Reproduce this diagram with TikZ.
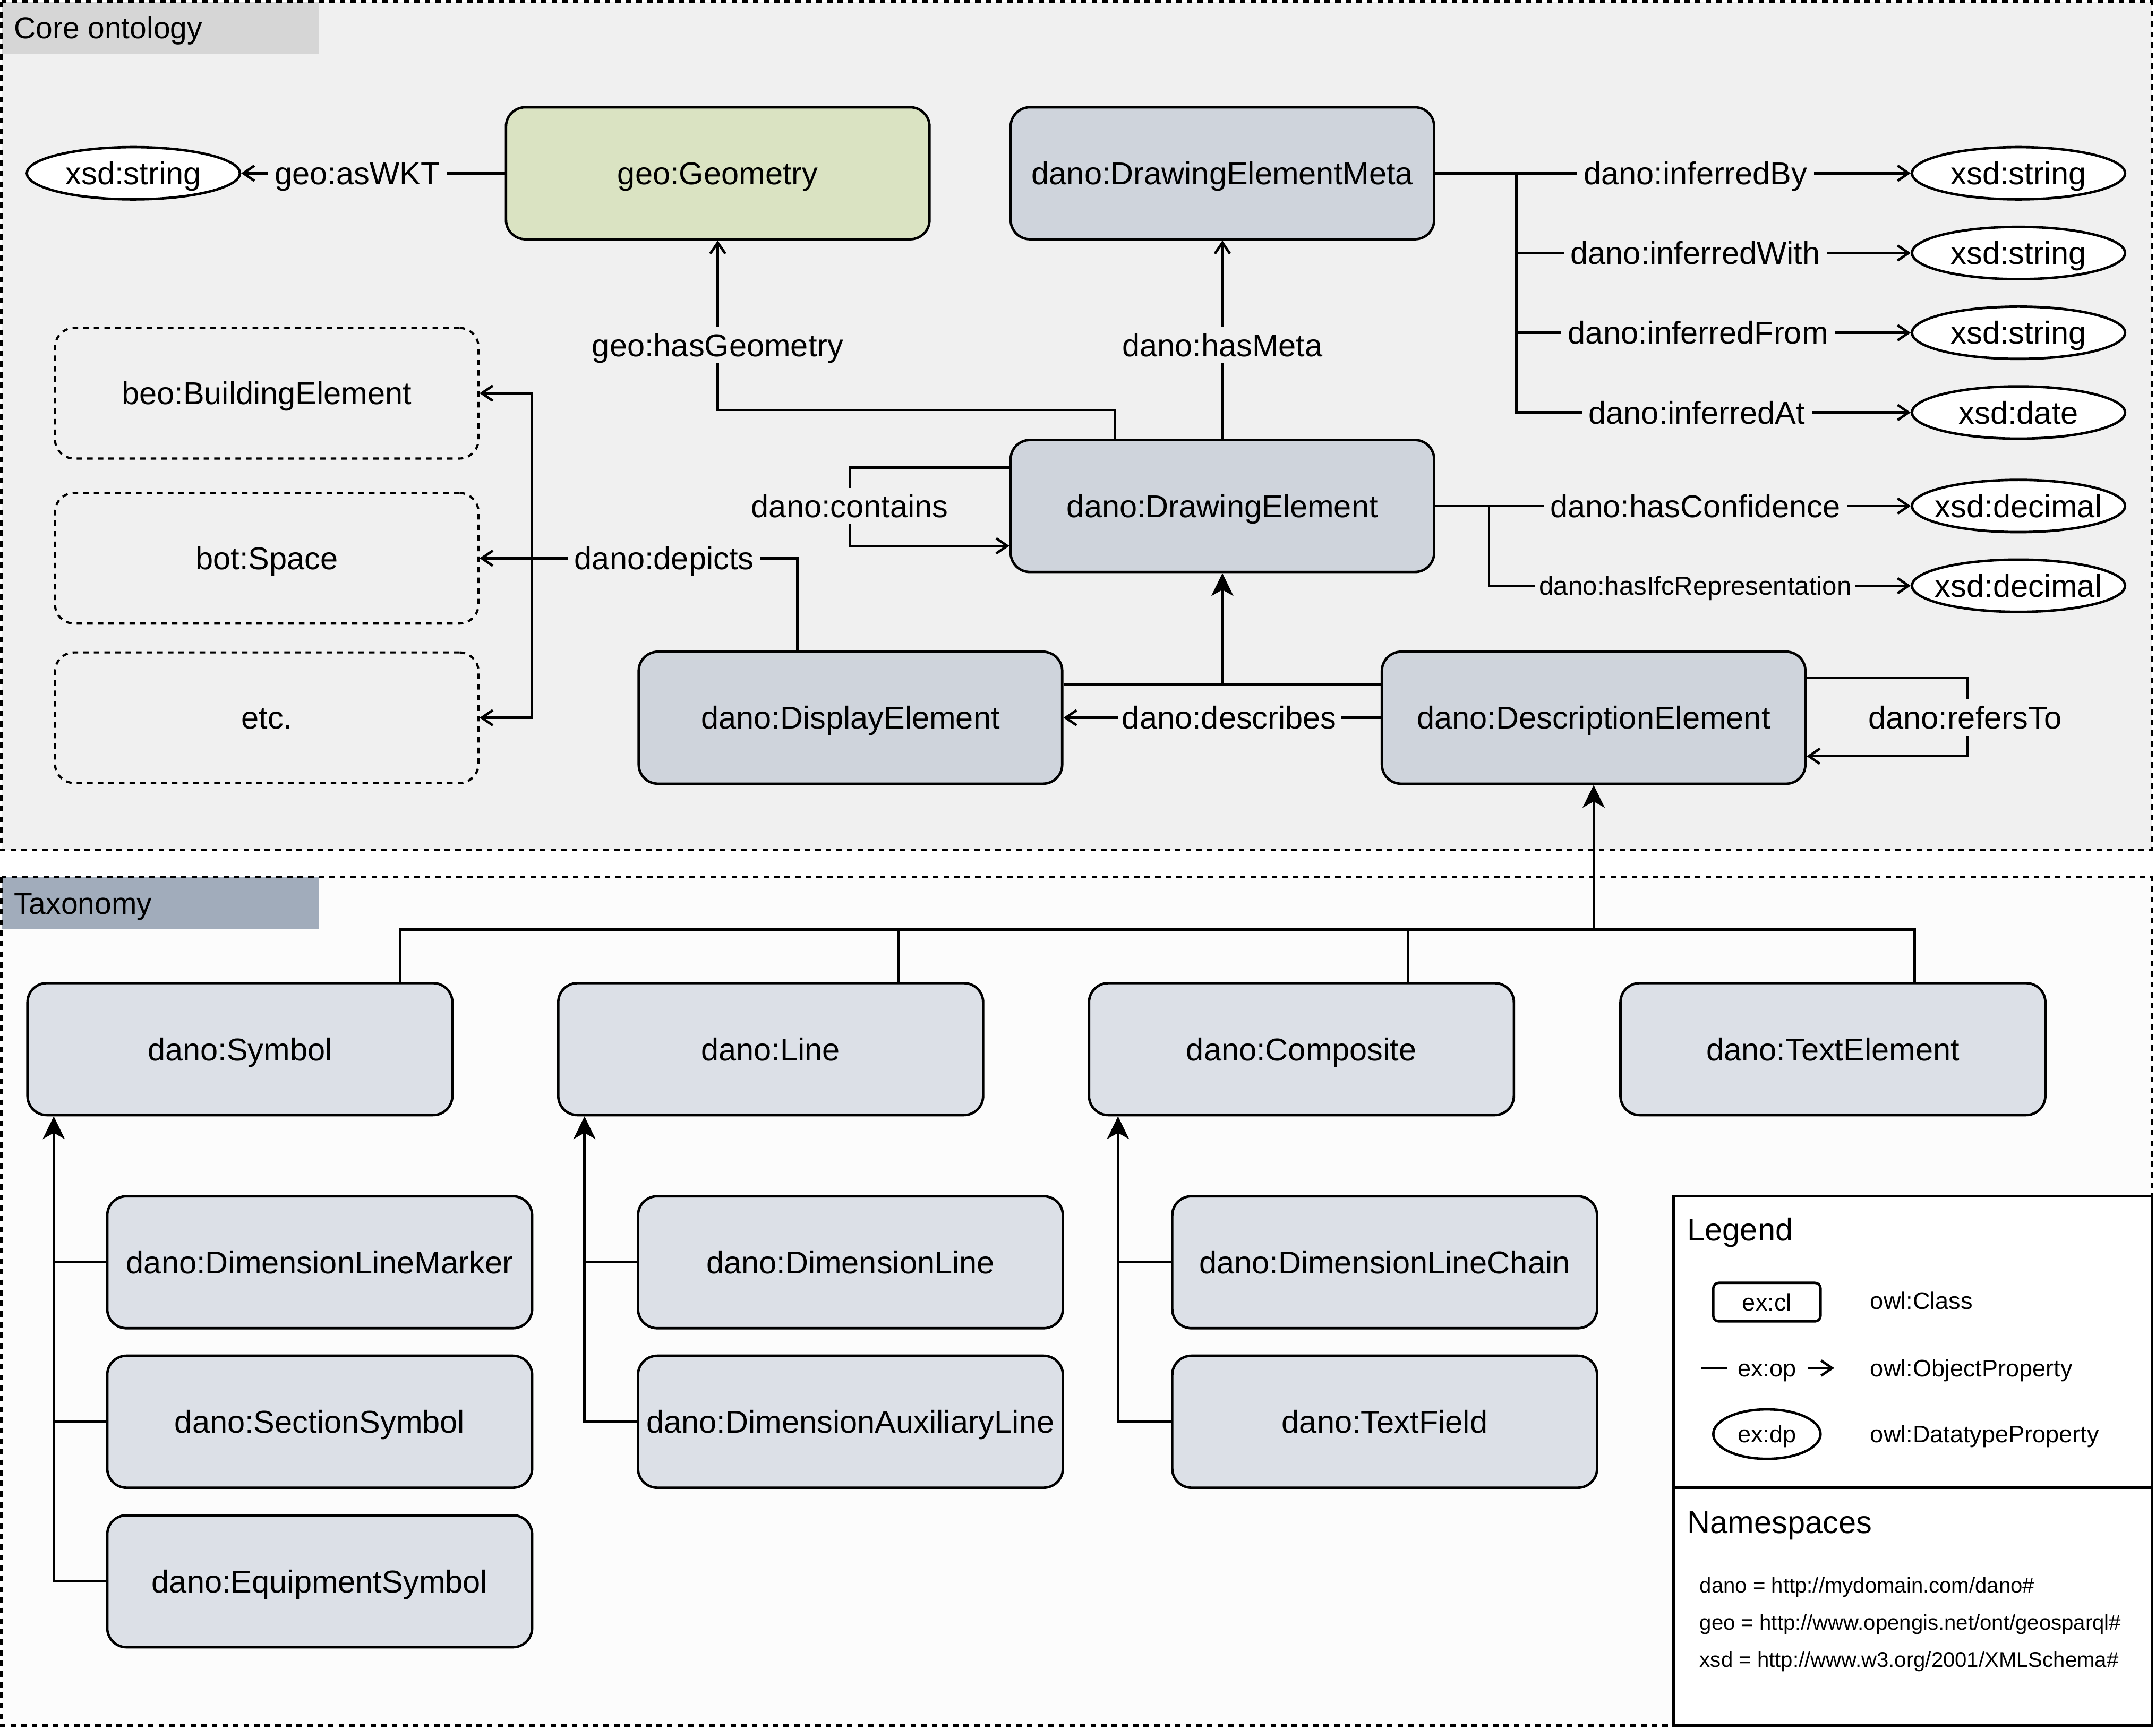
\documentclass[tikz,border=0pt]{standalone}
\usepackage{fontspec}
\setmainfont{Liberation Sans}
\usetikzlibrary{arrows.meta,shapes.geometric}
\definecolor{corebg}{HTML}{F0F0F0}
\definecolor{corehd}{HTML}{D6D6D6}
\definecolor{taxbg}{HTML}{FCFCFC}
\definecolor{taxhd}{HTML}{A1ACBB}
\definecolor{clsfill}{HTML}{CFD4DC}
\definecolor{taxfill}{HTML}{DCE0E7}
\definecolor{geofill}{HTML}{DAE3C2}
\newcommand\zw[1]{\makebox[0pt]{#1}}
\begin{document}
\begin{tikzpicture}[x=1pt,y=-1pt,
  every node/.style={font=\fontsize{23}{27}\selectfont, text height=16.5pt, text depth=0pt},
  line/.style={line width=1.8pt},
  op/.style={line,-{Straight Barb[length=8pt,width=11pt]}},
  sub/.style={line,-{Stealth[length=16.5pt,width=16pt,inset=4.5pt]}},
  cls/.style={draw, line width=1.8pt, rounded corners=14pt, fill=clsfill, minimum width=308, minimum height=96, inner sep=2pt},
  tax/.style={cls, fill=taxfill, minimum width=309},
  ext/.style={draw, line width=1.6pt, dash pattern=on 4pt off 3.7pt, rounded corners=14pt, minimum width=308, minimum height=95, inner sep=2pt},
  dp/.style={ellipse, draw, line width=1.8pt, fill=white, minimum width=155, minimum height=38, inner sep=0pt},
  lbl/.style={fill=corebg, inner sep=5pt},
  frame/.style={line width=1.8pt, dash pattern=on 4pt off 3.7pt},
  hd/.style={anchor=west, inner sep=0pt, font=\fontsize{22}{26}\selectfont, text height=15.8pt},
  sm/.style={font=\fontsize{17.4}{20}\selectfont, text height=12.5pt},
  ns/.style={anchor=west, inner sep=0pt, font=\fontsize{15.5}{18}\selectfont, text height=11.1pt},
]
\useasboundingbox (0,0) rectangle (1568,1257.2);
% frames
\fill[corebg] (1,1) rectangle (1565,618);
\fill[corehd] (1,1) rectangle (232,39);
\draw[frame] (1,1) rectangle (1565,618);
\node[hd] (hcore) at (10,20) {Core ontology};
\fill[taxbg] (1,638) rectangle (1565,1255);
\fill[taxhd] (1,638) rectangle (232,676);
\draw[frame] (1,638) rectangle (1565,1255);
\node[hd] (htax) at (10,657) {Taxonomy};

% core classes
\node[cls, fill=geofill] (geo) at (522,126) {geo:Geometry};
\node[cls] (meta) at (889,126) {dano:DrawingElementMeta};
\node[cls] (de) at (889,368) {dano:DrawingElement};
\node[cls] (disp) at (618.5,522) {dano:DisplayElement};
\node[cls] (desc) at (1159,522) {dano:DescriptionElement};
\node[ext] (beo) at (194,286) {beo:BuildingElement};
\node[ext] (bot) at (194,406) {bot:Space};
\node[ext] (etc) at (194,522) {etc.};

% datatypes
\node[dp] (xs0) at (97,126) {\zw{xsd:string}};
\node[dp] (x1) at (1468,126) {\zw{xsd:string}};
\node[dp] (x2) at (1468,184) {\zw{xsd:string}};
\node[dp] (x3) at (1468,242) {\zw{xsd:string}};
\node[dp] (x4) at (1468,300) {\zw{xsd:date}};
\node[dp] (x5) at (1468,368) {\zw{xsd:decimal}};
\node[dp] (x6) at (1468,426) {\zw{xsd:decimal}};

% core edges
\draw[op] (geo.west) -- (xs0.east);
\node[lbl] (lwkt) at (260,126) {geo:asWKT};

\draw[op] ([xshift=-78]de.north) -- ++(0,-21) -| (geo.south);
\node[lbl] (lgeom) at (522,251) {geo:hasGeometry};

\draw[op] (de.north) -- (meta.south);
\node[lbl] (lmeta) at (889,251) {dano:hasMeta};

\coordinate (b1) at ([xshift=59]meta.east);
\draw[op] (meta.east) -- (x1.west);
\draw[op] (b1) |- (x2.west);
\draw[op] (b1) |- (x3.west);
\draw[op] (b1) |- (x4.west);
\node[lbl] (lby) at (1233,126) {dano:inferredBy};
\node[lbl] (lwith) at (1233,184) {dano:inferredWith};
\node[lbl] (lfrom) at (1235,242) {dano:inferredFrom};
\node[lbl] (lat) at (1234,300) {dano:inferredAt};

\coordinate (b2) at ([xshift=39]de.east);
\draw[op] (de.east) -- (x5.west);
\draw[op] (b2) |- (x6.west);
\node[lbl] (lconf) at (1233,368) {dano:hasConfidence};
\node[lbl, inner sep=3pt, font=\fontsize{19}{22}\selectfont, text height=13.6pt] (lifc) at (1233,426) {dano:hasIfcRepresentation};

\draw[op] ([yshift=28]de.west) -- ++(-116,0) |- ([yshift=-29]de.west);
\node[lbl] (lcont) at (618,368) {dano:contains};

\coordinate (dep) at (387,406);
\draw[line] ([xshift=-38.5]disp.north) |- (dep);
\draw[op] (dep) |- (beo.east);
\draw[op] (dep) -- (bot.east);
\draw[op] (dep) |- (etc.east);
\node[lbl] (ldep) at (483,406) {dano:depicts};

\draw[line] ([yshift=24]disp.east) -- ([yshift=24]desc.west);
\coordinate (dj) at ([yshift=24]disp.east -| de.south);
\draw[sub] (dj) -- (de.south);

\draw[op] (desc.west) -- (disp.east);
\node[lbl, inner sep=3pt] (ldesc) at (894,522) {dano:describes};

\draw[op] ([yshift=29]desc.east) -- ++(117,0) |- ([yshift=-28]desc.east);
\node[lbl] (lref) at (1429,522) {dano:refersTo};

% taxonomy
\node[tax] (sym) at (174.5,763) {dano:Symbol};
\node[tax] (ln) at (560.5,763) {dano:Line};
\node[tax] (comp) at (946.5,763) {dano:Composite};
\node[tax] (txt) at (1333,763) {dano:TextElement};

\node[tax] (dlm) at (232.5,918) {dano:DimensionLineMarker};
\node[tax] (ss) at (232.5,1034) {dano:SectionSymbol};
\node[tax] (es) at (232.5,1150) {dano:EquipmentSymbol};
\node[tax] (dl) at (618.5,918) {dano:DimensionLine};
\node[tax] (dal) at (618.5,1034) {dano:DimensionAuxiliaryLine};
\node[tax] (dlc) at (1007,918) {dano:DimensionLineChain};
\node[tax] (tf) at (1007,1034) {dano:TextField};

\coordinate (tb) at (desc.south |- 0,677);
\draw[sub] (tb) -- (desc.south);
\draw[line] ([xshift=-39]sym.north east) -- ++(0,-38) -| ([xshift=-96]txt.north east);
\draw[line] ([xshift=93]ln.north) -- ++(0,-38);
\draw[line] ([xshift=77.5]comp.north) -- ++(0,-38);

\coordinate (sx) at ([xshift=20]sym.south west);
\draw[sub] (es.west) -| (sx);
\draw[line] (dlm.west) -- (dlm.west -| sx);
\draw[line] (ss.west) -- (ss.west -| sx);

\coordinate (lx) at ([xshift=20]ln.south west);
\draw[sub] (dal.west) -| (lx);
\draw[line] (dl.west) -- (dl.west -| lx);

\coordinate (cx) at ([xshift=22]comp.south west);
\draw[sub] (tf.west) -| (cx);
\draw[line] (dlc.west) -- (dlc.west -| cx);

% legend
\node[draw, line width=1.8pt, fill=white, minimum width=348, minimum height=212, inner sep=0pt] (legbox) at (1391,976) {};
\node[draw, line width=1.8pt, fill=white, minimum width=348, minimum height=173, inner sep=0pt] (nsbox) at (1391,1168.5) {};
\node[anchor=west, inner sep=0pt] (legt) at (1227,894) {Legend};
\node[draw, line width=1.8pt, rounded corners=4pt, minimum width=78, minimum height=28, inner sep=0pt, sm] (lcl) at (1285,947) {ex:cl};
\node[anchor=west, inner sep=0pt, sm] (tcl) at (1360,946) {owl:Class};
\coordinate (lo1) at (1237,995);
\coordinate (lo2) at (1256,995);
\draw[line] (lo1) -- (lo2);
\node[sm, inner sep=0pt] (lop) at (1285,995) {ex:op};
\coordinate (la1) at (1315,995);
\coordinate (la2) at (1334,995);
\draw[op] (la1) -- (la2);
\node[anchor=west, inner sep=0pt, sm] (top) at (1360,995) {owl:ObjectProperty};
\node[dp, minimum width=78, minimum height=36, sm] (ldp) at (1285,1043) {\zw{ex:dp}};
\node[anchor=west, inner sep=0pt, sm] (tdp) at (1360,1043) {owl:DatatypeProperty};
\node[anchor=west, inner sep=0pt] (nst) at (1227,1107) {Namespaces};
\node[ns] (ns1) at (1236,1153) {dano = http://mydomain.com/dano\#};
\node[ns] (ns2) at (1236,1180) {geo = http://www.opengis.net/ont/geosparql\#};
\node[ns] (ns3) at (1236,1207) {xsd = http://www.w3.org/2001/XMLSchema\#};
\end{tikzpicture}
\end{document}
